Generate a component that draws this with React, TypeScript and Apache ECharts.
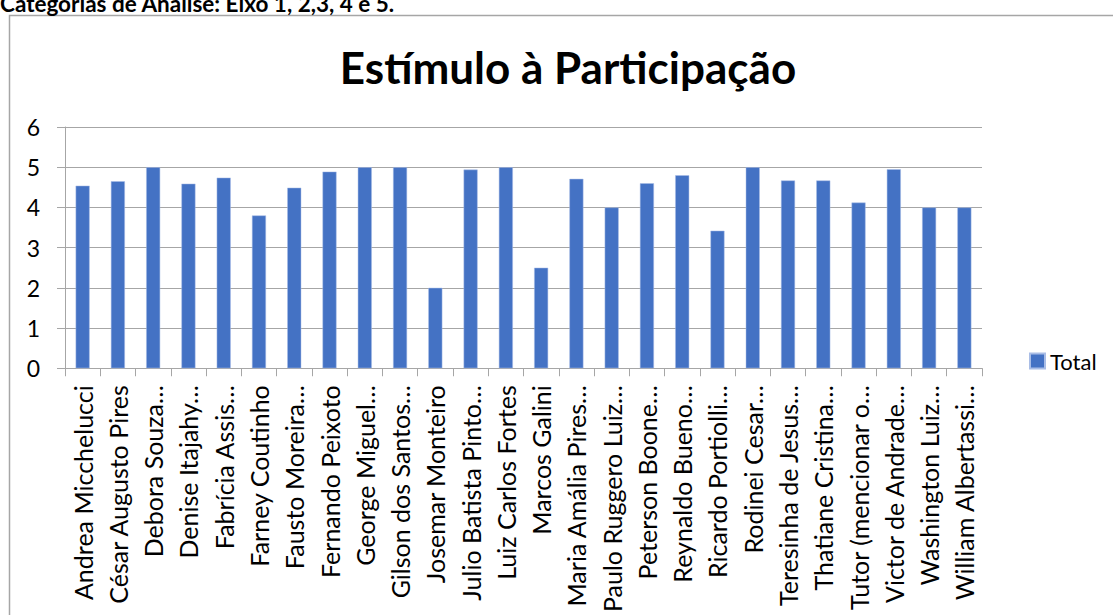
import React, { useEffect, useRef } from "react";
import * as echarts from "echarts";

const categories = [
  "Andrea Micchelucci",
  "César Augusto Pires",
  "Debora Souza…",
  "Denise Itajahy…",
  "Fabrícia Assis…",
  "Farney Coutinho",
  "Fausto Moreira…",
  "Fernando Peixoto",
  "George Miguel…",
  "Gilson dos Santos…",
  "Josemar Monteiro",
  "Julio Batista Pinto…",
  "Luiz Carlos Fortes",
  "Marcos Galini",
  "Maria Amália Pires…",
  "Paulo Ruggero Luiz…",
  "Peterson Boone…",
  "Reynaldo Bueno…",
  "Ricardo Portiolli…",
  "Rodinei Cesar…",
  "Teresinha de Jesus…",
  "Thatiane Cristina…",
  "Tutor (mencionar o…",
  "Victor de Andrade…",
  "Washington Luiz…",
  "William Albertassi…",
];

const totalValues = [
  4.54, 4.65, 5, 4.59, 4.74, 3.8, 4.49, 4.89, 5, 5, 2, 4.94, 5, 2.5, 4.71, 4.0,
  4.6, 4.8, 3.42, 5, 4.67, 4.67, 4.12, 4.95, 4, 4,
];

const yTicks = [0, 1, 2, 3, 4, 5, 6];

const seriesName = "Total";
const chartTitle = "Estímulo à Participação";
const pageHeading = "Categorias de Análise: Eixo 1, 2,3, 4 e 5.";

export default function App() {
  const ref = useRef<HTMLDivElement>(null);

  useEffect(() => {
    if (!ref.current) return;
    const chart = echarts.init(ref.current, null, { renderer: "svg" });
    const font = "Lato, 'Open Sans', sans-serif";
    chart.setOption({
      animation: false,
      textStyle: { fontFamily: font },
      graphic: [
        {
          type: "rect",
          shape: { x: 9.5, y: 15.5, width: 1200, height: 700 },
          style: { fill: "none", stroke: "#a6a6a6", lineWidth: 1.5 },
          silent: true,
        },
        {
          type: "text",
          x: 0,
          y: 3,
          style: {
            text: pageHeading,
            font: "bold 22.5px " + font,
            fill: "#000",
            textAlign: "left",
            textVerticalAlign: "middle",
          },
        },
        {
          type: "text",
          x: 568,
          y: 67,
          style: {
            text: chartTitle,
            font: "bold 44px " + font,
            fill: "#000",
            textAlign: "center",
            textVerticalAlign: "middle",
          },
        },
      ],
      legend: {
        data: [seriesName],
        left: 1024,
        top: 345,
        orient: "vertical",
        icon: "rect",
        itemWidth: 15,
        itemHeight: 15,
        itemGap: 5,
        textStyle: { fontSize: 22, color: "#000", fontFamily: font, padding: [0, 0, 0, 0] },
      },
      grid: { left: 65, right: 131, top: 127, bottom: 241, containLabel: false },
      xAxis: {
        type: "category",
        data: categories,
        axisLine: { show: true, lineStyle: { color: "#a6a6a6", width: 1 } },
        axisTick: { show: true, alignWithLabel: false, length: 8, lineStyle: { color: "#a6a6a6" } },
        axisLabel: {
          interval: 0,
          rotate: 90,
          margin: 17,
          fontSize: 25,
          color: "#000",
          fontFamily: font,
        },
      },
      yAxis: {
        type: "value",
        min: yTicks[0],
        max: yTicks[yTicks.length - 1],
        interval: 1,
        axisLine: { show: true, lineStyle: { color: "#a6a6a6", width: 1 } },
        axisTick: { show: true, length: 8, lineStyle: { color: "#a6a6a6" } },
        splitLine: { show: true, lineStyle: { color: "#a6a6a6", width: 1 } },
        axisLabel: { margin: 25, fontSize: 23, color: "#000", fontFamily: font },
      },
      series: [
        {
          name: seriesName,
          type: "bar",
          data: totalValues,
          barWidth: 14,
          itemStyle: { color: "#4472C4", borderColor: "#a9bde6", borderWidth: 0.5 },
        },
      ],
    });
    return () => chart.dispose();
  }, []);

  return (
    <div
      ref={ref}
      style={{ position: "absolute", left: 0, top: 0, width: 1113, height: 615, background: "#fff" }}
    />
  );
}
